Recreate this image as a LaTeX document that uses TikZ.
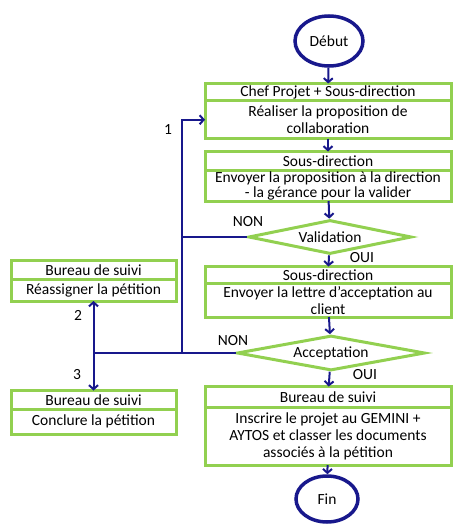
\documentclass[tikz,border=0pt]{standalone}
\usepackage{fontspec}
\setmainfont{Carlito}
\usetikzlibrary{shapes.geometric,arrows.meta,positioning}
\definecolor{boxgreen}{RGB}{146,208,80}
\definecolor{flowblue}{RGB}{24,24,140}
\tikzset{
  txt/.style={font=\fontsize{15.5}{17}\selectfont},
  head/.style={txt, draw=boxgreen, line width=3pt, fill=white, rectangle, minimum width=246pt, inner sep=0.5pt, outer sep=0pt, align=center},
  sidehead/.style={head, minimum width=165pt},
  term/.style={txt, draw=flowblue, line width=3.5pt, ellipse, inner sep=0pt},
  decision/.style={txt, draw=boxgreen, line width=3pt, diamond, aspect=4.5, inner sep=0pt},
  flow/.style={draw=flowblue, line width=2pt},
  arr/.style={flow, -{Straight Barb[length=4pt,width=9pt]}}
}
\begin{document}
\begin{tikzpicture}[x=1pt,y=-1pt]
\useasboundingbox (0,0) rectangle (455,524);
\node (debut)[term, minimum width=68pt, minimum height=50pt] at (329,41) {Début};
\node (h1)[head, anchor=north, minimum height=17.5pt] at (328,83.5) {Chef Projet + Sous-direction};
\node (b1)[head, below=0pt of h1, minimum height=37.5pt] {Réaliser la proposition de\\collaboration};
\node (h2)[head, anchor=north, minimum height=18.5pt] at (328,151.5) {Sous-direction};
\node (b2)[head, below=0pt of h2, minimum height=31pt, font=\fontsize{15.5}{15}\selectfont] {Envoyer la proposition à la direction\\- la gérance pour la valider};
\node (valid)[decision, minimum width=163pt, minimum height=34pt] at (330,237) {Validation};
\node (h3)[head, anchor=north, minimum height=17pt] at (328,266.5) {Sous-direction};
\node (b3)[head, below=0pt of h3, minimum height=33.5pt] {Envoyer la lettre d’acceptation au\\client};
\node (accept)[decision, minimum width=188pt, minimum height=35pt] at (331,353) {Acceptation};
\node (h4)[head, anchor=north, minimum height=21pt] at (328,386.5) {Bureau de suivi};
\node (b4)[head, below=0pt of h4, minimum height=57.5pt] {Inscrire le projet au GEMINI +\\AYTOS et classer les documents\\associés à la pétition};
\node (fin)[term, minimum width=62pt, minimum height=46pt] at (327,499) {Fin};
\node (h5)[sidehead, anchor=north, minimum height=19pt] at (93.5,260.5) {Bureau de suivi};
\node (b5)[sidehead, below=0pt of h5, minimum height=21.5pt] {Réassigner la pétition};
\node (h6)[sidehead, anchor=north, minimum height=19pt] at (93.5,390.5) {Bureau de suivi};
\node (b6)[sidehead, below=0pt of h6, minimum height=24.5pt] {Conclure la pétition};
% main column
\draw[arr] (debut) -- (h1);
\draw[arr] (b1) -- (h2);
\draw[arr] (b2) -- (valid);
\draw[arr] (valid) -- (h3);
\draw[arr] (b3) -- (accept);
\draw[arr] (accept) -- (h4);
\draw[arr] (b4) -- (fin);
% return paths
\coordinate (jb) at (182,353);
\coordinate (jt) at (b1.west -| jb);
\coordinate (jl) at (b5.south |- accept.west);
\draw[flow] (valid.west) -- (valid.west -| jb);
\draw[arr] (jb) -- (jt) -- (b1.west);
\draw[flow] (accept.west) -- (jl);
\draw[arr] (jl) -- (b5.south);
\draw[arr] (jl) -- (h6.north);
% labels
\node (l1)[txt] at (168,130) {1};
\node (l2)[txt] at (78,315) {2};
\node (l3)[txt] at (77,375) {3};
\node (non1)[txt] at (248,222) {NON};
\node (oui1)[txt] at (362,258) {OUI};
\node (non2)[txt] at (233,341) {NON};
\node (oui2)[txt] at (365,375) {OUI};
\end{tikzpicture}
\end{document}
